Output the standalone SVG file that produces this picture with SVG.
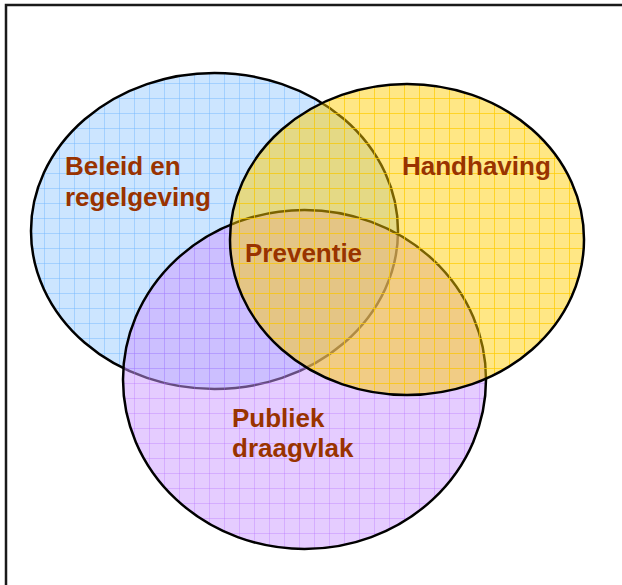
<svg xmlns="http://www.w3.org/2000/svg" width="622" height="585" viewBox="0 0 622 585">
<defs>
<pattern id="gb" patternUnits="userSpaceOnUse" x="14" y="8" width="15" height="15"><path d="M0.5 0V15M0 0.5H15" stroke="#66B2FF" stroke-width="1" stroke-opacity="0.4" fill="none"/></pattern>
<pattern id="gp" patternUnits="userSpaceOnUse" x="14" y="8" width="15" height="15"><path d="M0.5 0V15M0 0.5H15" stroke="#B266FF" stroke-width="1" stroke-opacity="0.3" fill="none"/></pattern>
<pattern id="gy" patternUnits="userSpaceOnUse" x="14" y="8" width="15" height="15"><path d="M0.5 0V15M0 0.5H15" stroke="#FFCC00" stroke-width="1" stroke-opacity="0.7" fill="none"/></pattern>
<style>
.lbl{font-family:"Liberation Sans",Arial,sans-serif;font-weight:bold;font-size:26px;fill:#993300}
.out{fill:none;stroke:#000;stroke-width:2.5}
</style>
</defs>
<rect x="6" y="5" width="630" height="600" fill="#fff" stroke="#1a1a1a" stroke-width="2.5"/>
<g id="beleid">
<ellipse cx="214.5" cy="231" rx="183.5" ry="158" fill="#99CCFF" fill-opacity="0.5"/>
<ellipse cx="214.5" cy="231" rx="183.5" ry="158" fill="url(#gb)"/>
<ellipse class="out" cx="214.5" cy="231" rx="183.5" ry="158"/>
</g>
<g id="publiek">
<ellipse cx="304.5" cy="379.5" rx="181.5" ry="169.5" fill="#CC99FF" fill-opacity="0.5"/>
<ellipse cx="304.5" cy="379.5" rx="181.5" ry="169.5" fill="url(#gp)"/>
<ellipse class="out" cx="304.5" cy="379.5" rx="181.5" ry="169.5"/>
</g>
<g id="handhaving">
<ellipse cx="407" cy="239.5" rx="177" ry="155.5" fill="#FFCC00" fill-opacity="0.48"/>
<ellipse cx="407" cy="239.5" rx="177" ry="155.5" fill="url(#gy)"/>
<ellipse class="out" cx="407" cy="239.5" rx="177" ry="155.5"/>
</g>
<g id="labels">
<text class="lbl" x="65" y="175">Beleid en</text>
<text class="lbl" x="65" y="206">regelgeving</text>
<text class="lbl" x="402" y="175">Handhaving</text>
<text class="lbl" x="245" y="262">Preventie</text>
<text class="lbl" x="232" y="427">Publiek</text>
<text class="lbl" x="232" y="457">draagvlak</text>
</g>
</svg>
